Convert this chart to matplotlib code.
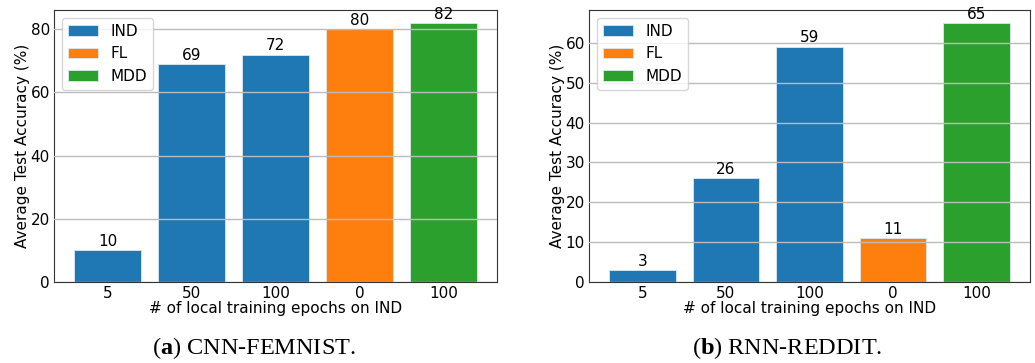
import matplotlib.pyplot as plt
import numpy as np

# data
epochs = ["5", "50", "100", "0", "100"]
methods = ["IND", "IND", "IND", "FL", "MDD"]
acc_femnist = [10, 69, 72, 80, 82]
acc_reddit = [3, 26, 59, 11, 65]
captions = [r"($\mathbf{a}$) CNN-FEMNIST.", r"($\mathbf{b}$) RNN-REDDIT."]

method_colors = {"IND": "#1f77b4", "FL": "#ff7f0e", "MDD": "#2ca02c"}

plt.rcParams["font.size"] = 11
plt.rcParams["mathtext.fontset"] = "custom"
plt.rcParams["mathtext.rm"] = "Liberation Serif"
plt.rcParams["mathtext.bf"] = "Liberation Serif:bold"

W, H = 1035, 363
fig = plt.figure(figsize=(W / 100, H / 100), dpi=100)

boxes = [(54, 497), (589, 1030)]
top, bottom = 10, 282


def draw_panel(ax, values):
    x = np.arange(len(epochs))
    for m in ["IND", "FL", "MDD"]:
        idx = [i for i, mm in enumerate(methods) if mm == m]
        bars = ax.bar(x[idx], [values[i] for i in idx], width=0.8,
                      color=method_colors[m], label=m,
                      edgecolor="#dde8f0", linewidth=0.6, zorder=1)
        ax.bar_label(bars, padding=1, fontsize=11)
    ax.set_xticks(x)
    ax.set_xticklabels(epochs)
    ax.yaxis.grid(True, color="#bcbcbc", linewidth=1.0, zorder=2)
    ax.set_axisbelow(False)
    ax.tick_params(length=0, pad=3, labelsize=11)
    for s in ax.spines.values():
        s.set_color("#333333")
    ax.set_xlabel("# of local training epochs on IND", fontsize=11, labelpad=0)
    ax.set_ylabel("Average Test Accuracy (%)", fontsize=11, labelpad=0)
    ax.legend(loc="upper left", fontsize=11, framealpha=0.8)


for (l, r), vals, cap in zip(boxes, [acc_femnist, acc_reddit], captions):
    ax = fig.add_axes([l / W, (H - bottom) / H, (r - l) / W, (bottom - top) / H])
    draw_panel(ax, vals)
    cx = (l + r) / 2 - 22
    fig.text(cx / W, (H - 348) / H, cap, ha="center", va="center",
             fontsize=17.5, family="Liberation Serif")

fig.savefig("out.png", dpi=100)
